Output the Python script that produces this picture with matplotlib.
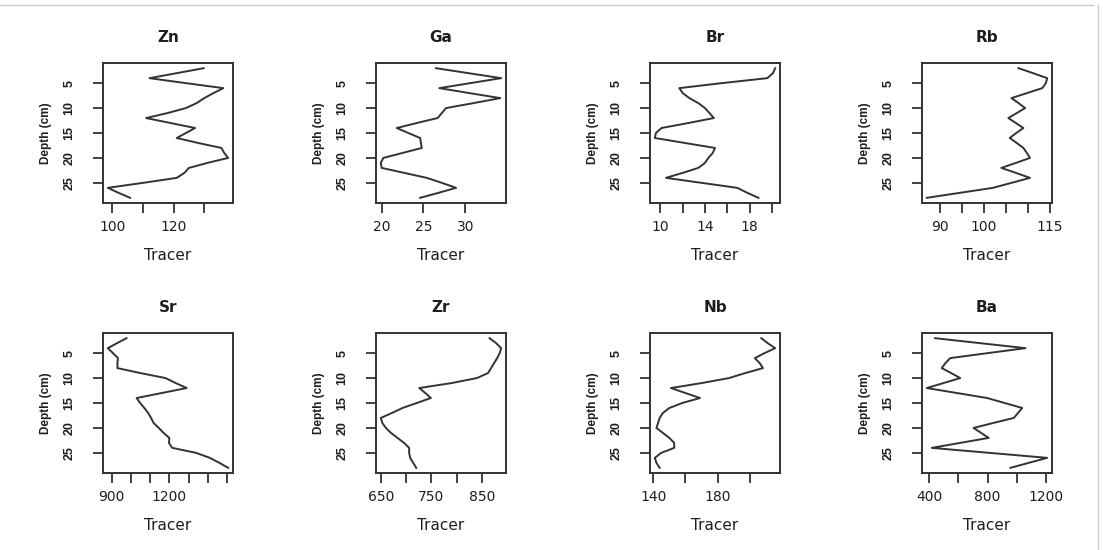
import matplotlib
matplotlib.use("Agg")
import matplotlib.pyplot as plt
from matplotlib.lines import Line2D

plt.rcParams['font.family'] = ['DejaVu Sans']

depth = list(range(2, 29))

zn = [129.8, 121.0, 112.1, 124.0, 136.2, 133.0, 130.0, 127.5, 124.0, 118.0, 111.0, 119.0, 127.0, 124.0,
      121.0, 128.0, 135.6, 136.5, 137.8, 131.0, 125.0, 123.5, 121.0, 110.0, 98.5, 102.0, 105.8]
ga = [26.5, 30.4, 34.3, 30.6, 26.9, 30.5, 34.2, 31.0, 27.7, 27.2, 26.7, 24.2, 21.8, 23.2,
      24.6, 24.7, 24.8, 22.5, 20.2, 19.9, 20.0, 22.7, 25.4, 27.2, 28.9, 26.8, 24.6]
br = [20.3, 20.1, 19.6, 15.5, 11.7, 12.0, 12.6, 13.4, 14.0, 14.4, 14.8, 12.5, 10.1, 9.6,
      9.5, 12.2, 14.9, 14.7, 14.3, 14.0, 13.4, 12.0, 10.5, 13.7, 16.9, 17.8, 18.8]
rb = [107.9, 111.2, 114.4, 114.1, 113.3, 109.8, 106.3, 107.9, 109.4, 107.5, 105.6, 107.3, 109.0, 107.4,
      105.9, 107.5, 109.0, 109.8, 110.5, 107.3, 104.0, 107.3, 110.5, 106.3, 102.1, 94.6, 87.1]
sr = [977, 928, 880, 907, 933, 930, 930, 1050, 1180, 1233, 1290, 1160, 1030, 1048,
      1070, 1090, 1105, 1118, 1145, 1170, 1200, 1198, 1215, 1339, 1410, 1460, 1506]
zr = [865, 878, 888, 885, 880, 874, 868, 862, 840, 790, 726, 738, 749, 721,
      693, 672, 650, 653, 660, 670, 683, 696, 706, 706, 708, 714, 720]
nb = [207, 211, 215.6, 209, 203, 206, 208, 197, 187, 170, 151, 160, 169, 158,
      150, 146, 144, 143, 142, 146, 150, 153, 153, 145, 141, 142, 144]
ba = [439, 750, 1062, 800, 543, 510, 485, 550, 612, 497, 382, 590, 797, 918,
      1039, 1010, 981, 840, 704, 756, 808, 612, 416, 813, 1211, 1085, 958]

titles = ["Zn", "Ga", "Br", "Rb", "Sr", "Zr", "Nb", "Ba"]
series = [zn, ga, br, rb, sr, zr, nb, ba]
xticks = [[100, 110, 120, 130], [20, 25, 30], [10, 12, 14, 16, 18, 20], [90, 95, 100, 105, 110, 115],
          [900, 1000, 1100, 1200, 1300, 1400, 1500], [650, 700, 750, 800, 850], [140, 160, 180, 200],
          [400, 600, 800, 1000, 1200]]
xlabels_shown = [["100", "", "120", ""], ["20", "25", "30"], ["10", "", "14", "", "18", ""],
                 ["90", "", "100", "", "", "115"], ["900", "", "", "1200", "", "", ""],
                 ["650", "", "750", "", "850"], ["140", "", "180", ""], ["400", "", "800", "", "1200"]]
yticks = [5, 10, 15, 20, 25]

W, H = 1103, 550
fig = plt.figure(figsize=(W / 100, H / 100), dpi=100)

lefts = [103, 376, 650, 922]
tops = [63, 333]
bw, bh = 130, 140
txt = '#1e1e1e'
rot_font = ['Liberation Sans', 'DejaVu Sans']

for i, (t, vals) in enumerate(zip(titles, series)):
    r, c = divmod(i, 4)
    ax = fig.add_axes([lefts[c] / W, 1 - (tops[r] + bh) / H, bw / W, bh / H])
    ax.plot(vals, depth, color='#333333', lw=1.4)
    lo, hi = min(vals), max(vals)
    pad = 0.04 * (hi - lo)
    ax.set_xlim(lo - pad, hi + pad)
    dlo, dhi = min(depth), max(depth)
    dp = 0.04 * (dhi - dlo)
    ax.set_ylim(dhi + dp, dlo - dp)
    ax.set_xticks(xticks[i])
    ax.set_xticklabels(xlabels_shown[i], fontsize=10, color=txt)
    ax.set_yticks(yticks)
    ax.set_yticklabels([str(v) for v in yticks], fontsize=9, color=txt, rotation=90,
                       va='center', family=rot_font, fontweight='bold')
    ax.tick_params(axis='x', direction='out', length=7, width=1.3, color='#333333', pad=5)
    ax.tick_params(axis='y', direction='out', length=7, width=1.3, color='#333333', pad=13)
    for s in ax.spines.values():
        s.set_linewidth(1.4)
        s.set_color('#333333')
    ax.set_title(t, fontsize=11, fontweight='bold', color=txt, pad=15)
    ax.set_xlabel("Tracer", fontsize=11, color=txt, labelpad=10)
    ax.set_ylabel("Depth (cm)", fontsize=8.5, color=txt, labelpad=8, family=rot_font,
                  fontweight='bold')

fig.add_artist(Line2D([0, 1093 / W], [1 - 5 / H, 1 - 5 / H], color='#cccccc', lw=1))
fig.add_artist(Line2D([1098 / W, 1098 / W], [0, 1 - 5 / H], color='#cccccc', lw=1))

fig.savefig("out.png", dpi=100)
